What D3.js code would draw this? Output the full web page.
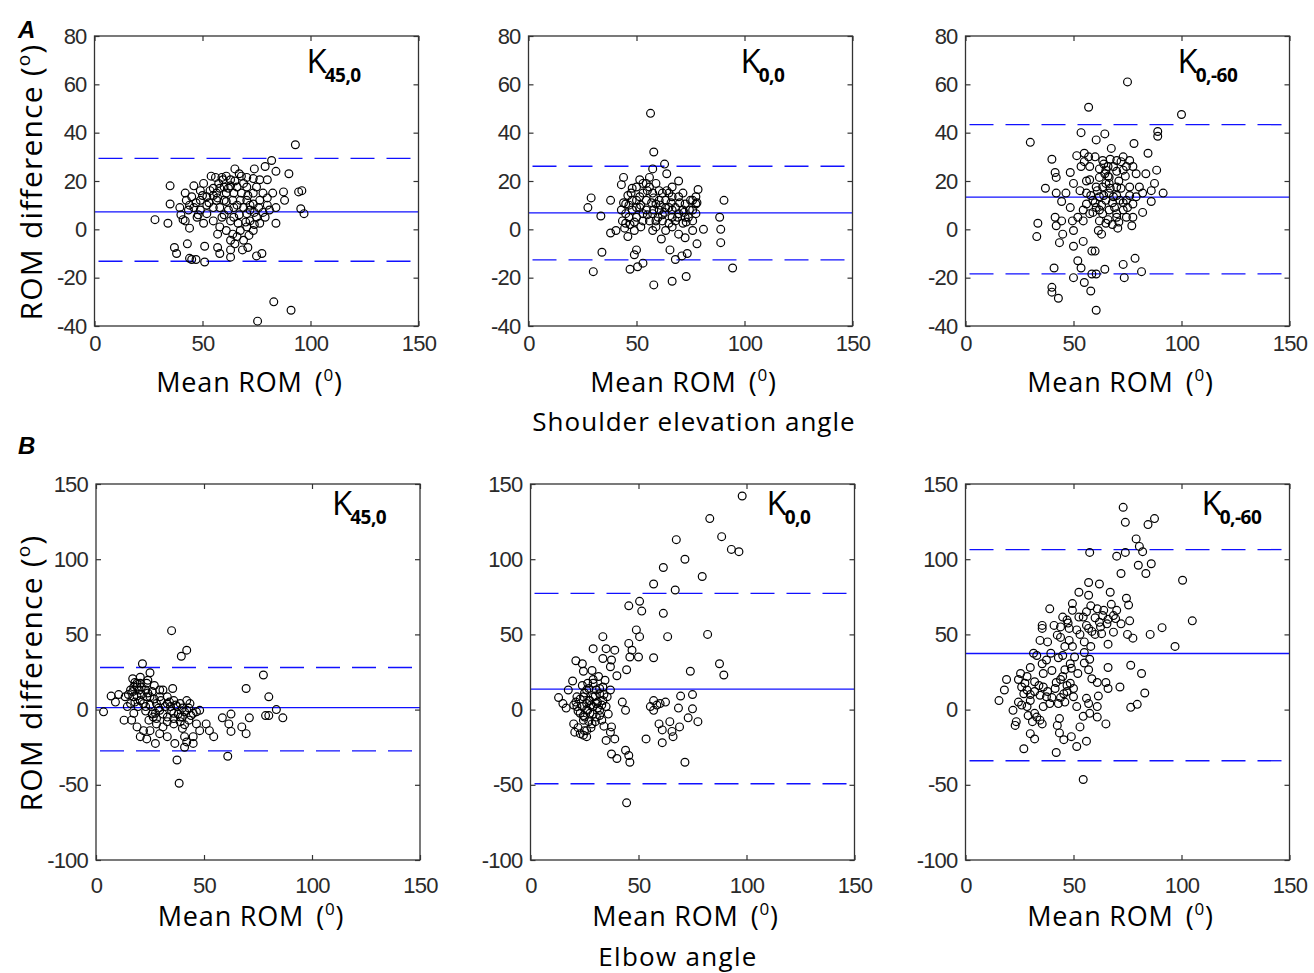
<!DOCTYPE html>
<html>
<head>
<meta charset="utf-8">
<script src="https://cdn.jsdelivr.net/npm/d3@7"></script>
<style>
  body { margin: 0; background: #fff; }
  svg { display: block; }
</style>
</head>
<body>
<svg id="fig"></svg>
<script>
// Bland-Altman points, [mean ROM, ROM difference] in degrees
const shoulderK45_0 = [[93,35],[82,28.5],[79,26],[84,24],[90,23],[74,25],[65,25],[54,22],[35,18],[42,15],[46,18],[28,4],[34,2.5],[35,10.5],[40,6],[41,4],[44,0.5],[43,-6],[37,-7.5],[38,-10],[44,-12],[45,-12.5],[47,-12.5],[51,-13.5],[51,-7],[57,-2],[57,-7.5],[63,-8.5],[63,-11.5],[58,-10],[64,-2],[69,-4.5],[71,-7.5],[75,-11],[77.5,-10],[83,-30],[91,-33.5],[75.5,-38],[84,2.5],[84,9],[87.5,15.5],[88,12],[94.5,15.5],[96,16],[95.5,8.5],[97,6.5],[67,23],[70.5,21.5],[73.5,21],[76.5,20.5],[80,20.5],[57.5,19],[60,17.5],[61,15],[56.5,15],[52,13.5],[49,12],[46,9],[49,8],[52,6.5],[55,9],[58,9],[55,3.5],[58,1],[63,3.5],[64.5,9],[67.5,12],[70.5,12],[73.5,10.5],[76.5,12],[80,10],[81,8],[79,5],[75,5],[72,3.5],[70.5,1],[67.5,-0.5],[66,-3],[69,9],[72,8],[64.5,15],[63,20.5],[59,21.5],[66,17.5],[42.5,12],[47.5,5],[50.5,2.5],[53.5,16],[49,16],[45,13.5],[52,10],[70.5,6.5],[73.5,15],[78,15],[82.5,15],[76.5,2.5],[73.5,-0.5],[71.5,-2.5],[61,-0.5],[59,5],[63,-4.5],[65,-6],[68.5,-8.5],[59.5,20.5],[56,21.5],[70.5,17.5],[75,17.5],[61,11.5],[42,3.5],[39.5,9],[43.5,8],[64.5,5],[66.5,2.5],[56.5,12],[50.5,19],
  [47,11],[50,14],[53,11],[55,17],[57,13],[60,12],[62,17],[64,12],[66,10],[68,15],[69,19],[71,14],[72,10],[74,7],[76,9],[78,7],[80,13],[60,6],[62,8],[58,17],[55,14],[48,6],[44,10],[67,6],[70,3],[74,2],[65,20],[68,22],[61,22],[63,18]];

const shoulderK0_0 = [[56.5,48],[58,32],[63,27],[64,23],[57.5,25],[69.5,20],[78.5,16.5],[90.5,12],[29,13],[27.5,9],[33.5,5.5],[38,12],[44,21.5],[43,18.5],[38,-1.5],[40.5,-0.5],[34,-9.5],[30,-17.5],[46,-3],[49,-0.5],[50,-8.5],[49,-10.5],[47,-16.5],[50.5,-15.5],[53,-14],[58,-23],[66.5,-21.5],[73,-19.5],[65.5,-8.5],[68,-12.5],[71,-11],[73.5,-10],[72.5,-3.5],[78,-6],[76,-0.5],[81,0],[88.5,5],[89,0],[89,-5.5],[94.5,-16],[61.5,-4],[57.5,-0.5],[43.5,3.5],[43,8],[45,10.5],[47.5,15],[50,17.5],[51.5,20.5],[54.5,19],[56,21.5],[59,19],[60.5,16],[62,15],[65,15],[66.5,13.5],[69.5,13.5],[72.5,10.5],[76,12],[77.5,10.5],[77.5,6.5],[76,3.5],[72.5,5],[69.5,6.5],[66.5,8],[63.5,9],[60.5,8],[57.5,6.5],[54.5,8],[51.5,9],[48,8],[46.5,5],[50,5],[53,3.5],[56,3.5],[59,3.5],[62,3.5],[65,2.5],[68,3.5],[71.5,2.5],[66.5,1],[63.5,-0.5],[69.5,-2],[48,12],[51.5,13.5],[54.5,12],[57.5,15],[53,15],[45,2.5],[44.5,0.5],[59,10.5],[63.5,12],[66.5,5],[71.5,8],[74.5,8],[60.5,12],[50,9],[46.5,10],[56,17.5],[66.5,17.5],[71.5,15],[77.5,13.5],[45,6.5],[59,1],[53,6.5],
  [44,11],[46,14],[48,17],[50,12],[52,10],[53,19],[55,16],[57,11],[58,8],[60,5],[61,10],[63,7],[64,16],[66,11],[68,9],[70,11],[72,7],[74,5],[76,8],[78,11],[47,2],[49,3],[52,1],[55,6],[58,13],[62,6],[65,9],[69,5],[73,3],[75,12]];

const shoulderK0_60 = [[75,61],[57,50.5],[100,47.5],[53.5,40],[64.5,39.5],[60.5,37],[89,40.5],[89,38.5],[30,36],[40,29],[37,17],[33.5,2.5],[33,-3],[78,35.5],[84.5,31.5],[88.5,24.5],[91.5,15],[83.5,23],[79,23],[87.5,19],[86,11.5],[82,7],[77,1.5],[80.5,17.5],[73,30],[67.5,33.5],[70,28.5],[63.5,28.5],[60,30],[55,31.5],[51.5,30.5],[53.5,26],[41.5,23.5],[42,21.5],[48.5,23.5],[50,19],[57.5,20.5],[62,21.5],[65,24.5],[66.5,21.5],[68.5,26],[73,24.5],[76,28.5],[42,15],[44.5,11.5],[48.5,9],[46.5,15],[53,16],[56,10.5],[54.5,8],[57.5,6.5],[60.5,9],[62,13.5],[65,12],[68.5,13.5],[71.5,12],[74.5,12],[73,8],[70,6.5],[66.5,8],[63.5,6.5],[62,3.5],[65,2.5],[70,5],[70.5,0.5],[74.5,5],[77.5,5],[61.5,-0.5],[63,-2],[54.5,3.5],[49.5,3.5],[52,5],[41.5,5],[44.5,3.5],[42,1.5],[45,-2],[50,-0.5],[50,-7],[54.5,-5],[43.5,-5.5],[52,-13],[58.5,-9],[60,-9],[53.5,-16],[41,-16],[50,-20],[55,-22],[58,-25.5],[60.5,-18.5],[64.5,-16.5],[73,-14.5],[73.5,-20],[78.5,-12],[81.5,-17.5],[40,-24],[40,-26],[43,-28.5],[60.5,-33.5],[58.5,-18.5],[82,15],[86,16],[63.5,17.5],[66.5,19],[70,17.5],[60.5,17.5],[56,15],[76,17.5],[77.5,10.5],[79,13.5],[66.5,15],[59,12],[57.5,26],[74.5,26],[77.5,26],[64.5,23],[66,26],
  [58,14],[60,11],[61,16],[63,10],[64,14],[65,19],[66,22],[67,17],[68,11],[69,9],[70,14],[71,20],[72,17],[73,11],[75,9],[76,14],[62,25],[64,27],[67,29],[70,24],[72,28],[74,22],[59,7],[62,8],[66,4],[68,2],[71,3],[56,20],[55,28],[57,30]];

const elbowK45_0 = [[35,52.5],[42,39.5],[39.5,35.5],[21.5,30.5],[25,24.5],[3.5,-1.5],[7,9],[10.5,10],[9,5],[13.5,8.5],[17,20.5],[20.5,21.5],[19,15],[23.5,17.5],[27,16],[31,13],[35.5,14],[17.5,8.5],[20.5,6],[23.5,8.5],[14.5,2],[13,-7],[17.5,-2.5],[19,-11.5],[20.5,-18],[23.5,-19.5],[27.5,-22.5],[25,-14],[28,-9.5],[29.5,-16],[26.5,-5],[29.5,-0.5],[33,4],[33,-5],[36,-2.5],[39,4],[42,6],[43.5,4],[39,-5],[41,-1.5],[43,-7],[45,-2.5],[46.5,-9.5],[48,-14],[45,-18],[42,-21.5],[41,-25],[36.5,-22.5],[33,-18],[37.5,-33.5],[38.5,-49],[51,-9.5],[52.5,-14],[54.5,-18],[61,-31],[58.5,-5.5],[61.5,-9.5],[62.5,-14.5],[62.5,-3],[67.5,-11.5],[69.5,-16],[71,-5.5],[69.5,14],[77.5,23],[80,8.5],[78.5,-4],[80,-4],[83.5,0],[86.5,-5.5],[48,-0.5],[46.5,-1.5],[28,4],[25,8.5],[23,13],[19,17.5],[16,13],[16,4],[16.5,-7],[36,6],[33,8.5],[34.5,2],[37.5,2],[29.5,8.5],[27.5,-2.5],[24.5,-7],[22,-14],[19.5,2],[31,-11.5],[36,-9.5],[40,-12.5],[41,-18],[45,-22.5],[23,2],[26,12],[29.5,13],[24,19.5],[20.5,17.5],[17.5,15],[42,-0.5],[40,-5],
  [15,10],[17,12],[18,5],[19,9],[20,13],[21,10],[22,4],[23,-1],[24,11],[25,3],[26,-3],[27,7],[28,-6],[29,1],[30,6],[31,-3],[32,2],[33,-8],[34,5],[35,-1],[36,-6],[37,3],[38,-3],[39,-8],[40,1],[41,-10],[43,1],[44,-4],[21,15],[18,18]];

const elbowK0_0 = [[98,142],[83,127],[88.5,115],[93,106.5],[96.5,105],[67.5,113],[71.5,100],[61.5,94.5],[79.5,88.5],[57,83.5],[67,79.5],[45.5,69],[50.5,72],[51.5,65.5],[61.5,64],[49,53],[50.5,48.5],[63.5,48.5],[82,50],[33.5,48.5],[29,40.5],[35,40.5],[39,39.5],[45.5,44],[47,39.5],[46,35],[50,35],[57,34.5],[33.5,34],[37.5,33],[37,28.5],[40,22.5],[44.5,26.5],[21,32.5],[24,30.5],[24.5,25.5],[28.5,26],[31.5,22],[19.5,19],[17.5,13],[13,8],[15,4],[16.5,1],[20,3],[21.5,8.5],[23,-2.5],[20,-9.5],[20.5,-15],[24.5,-17],[26,-14],[24.5,-7],[26.5,17.5],[26,13],[29,8.5],[32,10.5],[33.5,15],[35.5,8.5],[29,2],[27.5,-2.5],[32,-0.5],[30.5,-5],[26,4],[24.5,8.5],[21.5,2],[33,-7],[28.5,-9.5],[42.5,5],[44,-0.5],[37.5,-11.5],[37,-15],[39,-19.5],[35,-20.5],[37.5,-29.5],[40,-32.5],[44,-27],[45.5,-30.5],[46,-35],[44.5,-62],[53.5,-19.5],[61,-22],[57,6],[55.5,2],[58.5,3],[60,4],[62.5,5],[57,-0.5],[59.5,-9.5],[64.5,-8],[61,-13.5],[65.5,-14.5],[66,-18],[69,-11.5],[68.5,1],[69.5,9],[75,10],[75,0.5],[73,-5.5],[77.5,-8],[74,25.5],[87.5,30.5],[89.5,23],[71.5,-35],[29,17.5],[30.5,13],[27.5,6],[30.5,4],[33.5,6],[26.5,-0.5],[24.5,-4],[37,13],[34.5,19.5],
  [21,5],[22,-1],[23,7],[24,2],[25,-5],[25,11],[26,0],[27,6],[27,-8],[28,3],[28,-12],[29,-3],[30,9],[30,-8],[31,1],[31,5],[32,-4],[33,3],[34,10],[22,-12],[23,-16],[25,-14],[26,-18],[27,14],[24,16],[29,20],[32,14],[35,2],[36,-3],[34,-11]];

const elbowK0_60 = [[73,134.5],[74,124.5],[84.5,123],[87.5,127],[79,113.5],[80.5,108.5],[82,105],[74,104.5],[70,102],[57.5,104.5],[80,96],[86,97],[83.5,90.5],[72,90.5],[100.5,86],[57,84.5],[62,83.5],[67,78],[52.5,78],[57,76],[74.5,74],[75.5,69.5],[67.5,70],[49.5,70.5],[39,67],[58,69],[61,67],[49.5,66],[68.5,62.5],[69.5,60.5],[63.5,62.5],[54.5,61.5],[47,59.5],[45,61.5],[41,56],[35.5,56],[35.5,54],[48,54],[51.5,53],[57,54],[58.5,52],[63,50.5],[68.5,51.5],[75,50],[76,59],[77.5,47.5],[85.5,50],[91,54.5],[105,59],[97,42],[66,43.5],[55,45],[49.5,42],[46,42],[34.5,46],[39.5,37.5],[31.5,37.5],[37.5,33],[35.5,30.5],[43,34.5],[50.5,35],[48.5,30.5],[49,27.5],[55,31],[57.5,33.5],[57,26.5],[66,28],[76.5,29.5],[81.5,24],[45,22],[47,16],[58.5,20.5],[61,18],[65,18],[66,14],[71.5,15],[83,11],[76.5,1.5],[79.5,3.5],[61.5,9],[61,2],[56,7.5],[57,4],[51.5,2],[50,8.5],[47,12],[54.5,-4.5],[57.5,-2.5],[65,-9.5],[56,-21],[53,-11.5],[51.5,-24.5],[49,-18],[45.5,-20],[43.5,-15.5],[42.5,-10.5],[43.5,-6],[42,-28.5],[54.5,-46.5],[27,-26],[32,-19.5],[30,-16],[23,-10.5],[23.5,-8],[33,-5],[32,-2.5],[35.5,-9.5],[34.5,-7],[36,2],[39,4],[43,4],[37.5,8.5],[36,15],[41.5,14],[34.5,9.5],[30,6],[28.5,2],[26,3],[24.5,5],[22,-0.5],[15.5,6],[18,13],[19,20],[24.5,20],[25.5,24],[27.5,17.5],[27,10.5],[30,28],[28.5,22],[32,18.5],[46,26.5],[44,20],[45.5,10.5],[48.5,17.5],[61,-5],[28.5,13],[26,15],[52.5,61.5],[62.5,55],[65.5,57],[44,55],[47.5,57.5],[56,65],[42.5,49.5],
  [30,10],[32,12],[34,16],[29,-4],[31,-8],[38,12],[40,8],[42,18],[44,8],[46,5],[50,14],[52,24],[55,38],[58,42],[60,50],[62,58],[64,66],[66,60],[70,66],[72,57],[60,61],[56,56],[53,50],[48,46],[45,36],[40,26],[36,24],[33,36],[38,45],[44,48]];

// bias and limits of agreement, one value per panel (K45,0 / K0,0 / K0,-60)
const shoulderMean = [7.2, 6.8, 13.3];
const shoulderUpper = [29.4, 26.1, 43.3];
const shoulderLower = [-13.2, -12.6, -18.4];
const elbowMean = [1.3, 13.6, 37.3];
const elbowUpper = [28, 77.3, 106.4];
const elbowLower = [-27.5, -49.3, -34];

const kSubscripts = ["45,0", "0,0", "0,-60"];
const xTicks = [0, 50, 100, 150];
const shoulderTicks = [-40, -20, 0, 20, 40, 60, 80];
const elbowTicks = [-100, -50, 0, 50, 100, 150];

const svg = d3.select("#fig").attr("width", 1314).attr("height", 973);

const BLUE = "#1010ff";
const labelFont = "'Open Sans', sans-serif";
const tickFont = "'Liberation Sans', Arial, sans-serif";

const rows = [
  {
    top: 36, height: 290, lefts: [94.5, 528.5, 965.5], width: 324,
    yDomain: [-40, 80], yTicks: shoulderTicks,
    sets: [shoulderK45_0, shoulderK0_0, shoulderK0_60],
    mean: shoulderMean, upper: shoulderUpper, lower: shoulderLower,
    kDx: 212, kBase: 37, xPad: 9, xLabelBase: 392
  },
  {
    top: 484, height: 376, lefts: [96, 530.5, 965.5], width: 324,
    yDomain: [-100, 150], yTicks: elbowTicks,
    sets: [elbowK45_0, elbowK0_0, elbowK0_60],
    mean: elbowMean, upper: elbowUpper, lower: elbowLower,
    kDx: 236, kBase: 31, xPad: 17, xLabelBase: 926
  }
];

rows.forEach(row => {
  row.lefts.forEach((left, i) => {
    const x = d3.scaleLinear().domain([0, 150]).range([0, row.width]);
    const y = d3.scaleLinear().domain(row.yDomain).range([row.height, 0]);

    const g = svg.append("g").attr("transform", `translate(${left},${row.top})`);

    // mean difference and 95% limits
    g.append("line")
      .attr("x1", 0).attr("x2", row.width)
      .attr("y1", y(row.mean[i])).attr("y2", y(row.mean[i]))
      .attr("stroke", BLUE).attr("stroke-width", 1.3);

    g.selectAll("line.loa")
      .data([row.upper[i], row.lower[i]])
      .enter()
      .append("line")
      .attr("class", "loa")
      .attr("x1", 0).attr("x2", row.width)
      .attr("y1", d => y(d)).attr("y2", d => y(d))
      .attr("stroke", BLUE).attr("stroke-width", 1.3)
      .attr("stroke-dasharray", "24,12")
      .attr("stroke-dashoffset", -4);

    g.selectAll("circle")
      .data(row.sets[i])
      .enter()
      .append("circle")
      .attr("cx", d => x(d[0]))
      .attr("cy", d => y(d[1]))
      .attr("r", 3.9)
      .attr("fill", "none")
      .attr("stroke", "#000")
      .attr("stroke-width", 1.2);

    // matlab style box, ticks pointing inward on all sides
    const axes = [
      { axis: d3.axisBottom(x).tickValues(xTicks).tickPadding(row.xPad), t: `translate(0,${row.height})`, labels: true },
      { axis: d3.axisTop(x).tickValues(xTicks), t: "translate(0,0)", labels: false },
      { axis: d3.axisLeft(y).tickValues(row.yTicks).tickPadding(8), t: "translate(0,0)", labels: true },
      { axis: d3.axisRight(y).tickValues(row.yTicks), t: `translate(${row.width},0)`, labels: false }
    ];
    axes.forEach(a => {
      const ag = g.append("g")
        .attr("transform", a.t)
        .call(a.axis.tickSizeInner(-5).tickSizeOuter(0).tickFormat(d => String(d)));
      ag.select(".domain").remove();
      ag.selectAll("line").attr("stroke", "#333").attr("stroke-width", 1.2);
      if (a.labels) {
        ag.selectAll("text")
          .style("font-family", tickFont)
          .style("font-size", "22px")
          .style("letter-spacing", "-0.8px")
          .attr("fill", "#2a2a2a");
      } else {
        ag.selectAll("text").remove();
      }
    });

    g.append("rect")
      .attr("width", row.width).attr("height", row.height)
      .attr("fill", "none").attr("stroke", "#333").attr("stroke-width", 1.3);

    // K label with bold subscript
    const k = g.append("text")
      .attr("x", row.kDx).attr("y", row.kBase)
      .style("font-family", labelFont)
      .style("font-size", "33px")
      .attr("fill", "#000")
      .text("K");
    k.append("tspan")
      .attr("dx", -2).attr("dy", 9)
      .style("font-size", "19px")
      .style("font-weight", "bold")
      .style("letter-spacing", "-0.5px")
      .text(kSubscripts[i]);

    // x label
    const xl = svg.append("text")
      .attr("x", left + 155).attr("y", row.xLabelBase)
      .attr("text-anchor", "middle")
      .style("font-family", labelFont)
      .style("font-size", "27px")
      .style("letter-spacing", "0.8px")
      .attr("fill", "#000")
      .text("Mean ROM");
    xl.append("tspan").attr("dx", 12).text("(");
    xl.append("tspan").attr("dy", -11).style("font-size", "17px").text("0");
    xl.append("tspan").attr("dy", 11).text(")");

    // y label only on first panel of each row
    if (i === 0) {
      const yl = svg.append("text")
        .attr("transform", `translate(42,${row.top + row.height / 2 + 1}) rotate(-90)`)
        .attr("text-anchor", "middle")
        .style("font-family", labelFont)
        .style("font-size", "30px")
        .style("letter-spacing", "1.2px")
        .attr("fill", "#000")
        .text("ROM difference (");
      yl.append("tspan").attr("dy", -12).style("font-size", "19px").text("o");
      yl.append("tspan").attr("dy", 12).text(")");
    }
  });
});

// panel letters and group captions
svg.append("text").attr("x", 18).attr("y", 38)
  .style("font-family", tickFont).style("font-size", "24px")
  .style("font-weight", "bold").style("font-style", "italic")
  .text("A");
svg.append("text").attr("x", 18).attr("y", 454)
  .style("font-family", tickFont).style("font-size", "24px")
  .style("font-weight", "bold").style("font-style", "italic")
  .text("B");

svg.append("text").attr("x", 694).attr("y", 431)
  .attr("text-anchor", "middle")
  .style("font-family", labelFont).style("font-size", "26px")
  .style("letter-spacing", "1px")
  .text("Shoulder elevation angle");
svg.append("text").attr("x", 678).attr("y", 966)
  .attr("text-anchor", "middle")
  .style("font-family", labelFont).style("font-size", "26px")
  .style("letter-spacing", "1.3px")
  .text("Elbow angle");
</script>
</body>
</html>
